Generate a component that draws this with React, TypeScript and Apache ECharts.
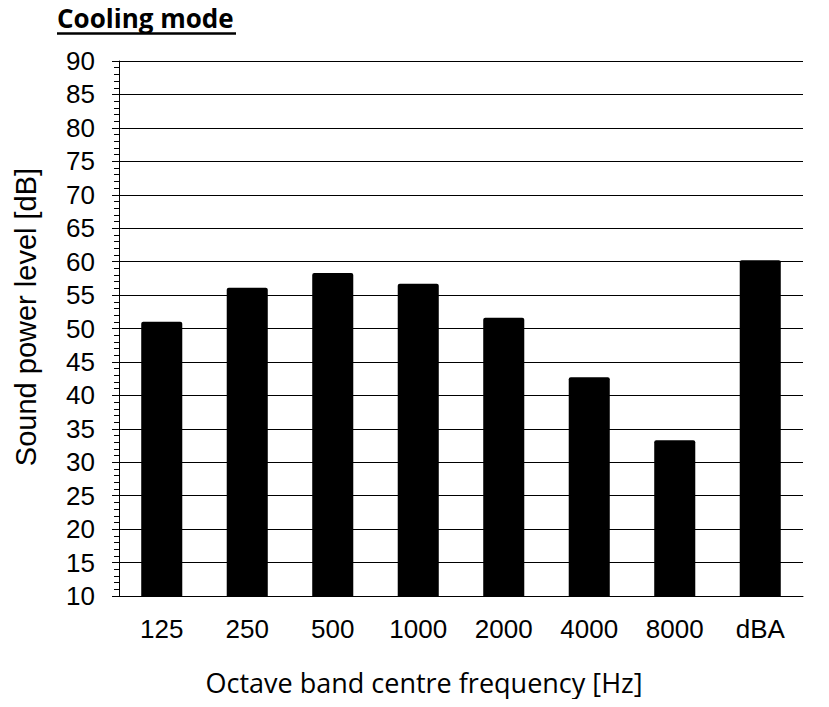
import React, { useEffect, useRef } from "react";
import * as echarts from "echarts";

const categories = ["125", "250", "500", "1000", "2000", "4000", "8000", "dBA"];
const soundPower = [51.0, 56.1, 58.3, 56.7, 51.6, 42.7, 33.3, 60.2];
const yMin = 10;
const yMax = 90;
const yStep = 5;
const titleText = "Cooling mode";
const xAxisName = "Octave band centre frequency [Hz]";
const yAxisName = "Sound power level [dB]";

export default function App() {
  const ref = useRef<HTMLDivElement>(null);
  useEffect(() => {
    if (!ref.current) return;
    const chart = echarts.init(ref.current, null, { renderer: "svg" });
    chart.setOption({
      animation: false,
      backgroundColor: "#fff",
      graphic: [
        {
          type: "text",
          left: 57,
          top: 5,
          style: {
            text: titleText,
            font: "bold 26px 'Open Sans', sans-serif",
            fill: "#000",
          },
        },
        {
          type: "line",
          shape: { x1: 57, y1: 33.5, x2: 236, y2: 33.5 },
          style: { stroke: "#000", lineWidth: 2.5 },
        },
        {
          type: "text",
          x: 424,
          y: 669,
          style: {
            text: xAxisName,
            font: "27px 'Open Sans', sans-serif",
            fill: "#000",
            align: "center",
            verticalAlign: "top",
          },
        },
        {
          type: "text",
          x: 26,
          y: 317,
          rotation: Math.PI / 2,
          style: {
            text: yAxisName,
            font: "29px 'Liberation Sans', Arial, sans-serif",
            fill: "#000",
            align: "center",
            verticalAlign: "middle",
          },
        },
      ],
      grid: { left: 119, right: 26, top: 61, bottom: 111, containLabel: false },
      xAxis: {
        type: "category",
        data: categories,
        axisLine: { show: true, lineStyle: { color: "#000", width: 1 } },
        axisTick: { show: false },
        axisLabel: {
          color: "#000",
          fontSize: 26,
          fontFamily: "'Liberation Sans', Arial, sans-serif",
          margin: 20,
        },
      },
      yAxis: {
        type: "value",
        min: yMin,
        max: yMax,
        interval: yStep,
        axisLine: { show: true, lineStyle: { color: "#000", width: 1 } },
        axisTick: { show: true, length: 7, lineStyle: { color: "#000" } },
        minorTick: { show: true, splitNumber: 5, length: 5, lineStyle: { color: "#000" } },
        splitLine: { show: true, lineStyle: { color: "#000", width: 1 } },
        axisLabel: {
          color: "#000",
          fontSize: 26,
          fontFamily: "'Liberation Sans', Arial, sans-serif",
          margin: 24,
        },
      },
      series: [
        {
          type: "bar",
          data: soundPower,
          barWidth: "48%",
          itemStyle: { color: "#000", borderRadius: [2, 2, 0, 0] },
        },
      ],
    });
    return () => chart.dispose();
  }, []);
  return <div ref={ref} style={{ width: 829, height: 707, margin: -8 }} />;
}
